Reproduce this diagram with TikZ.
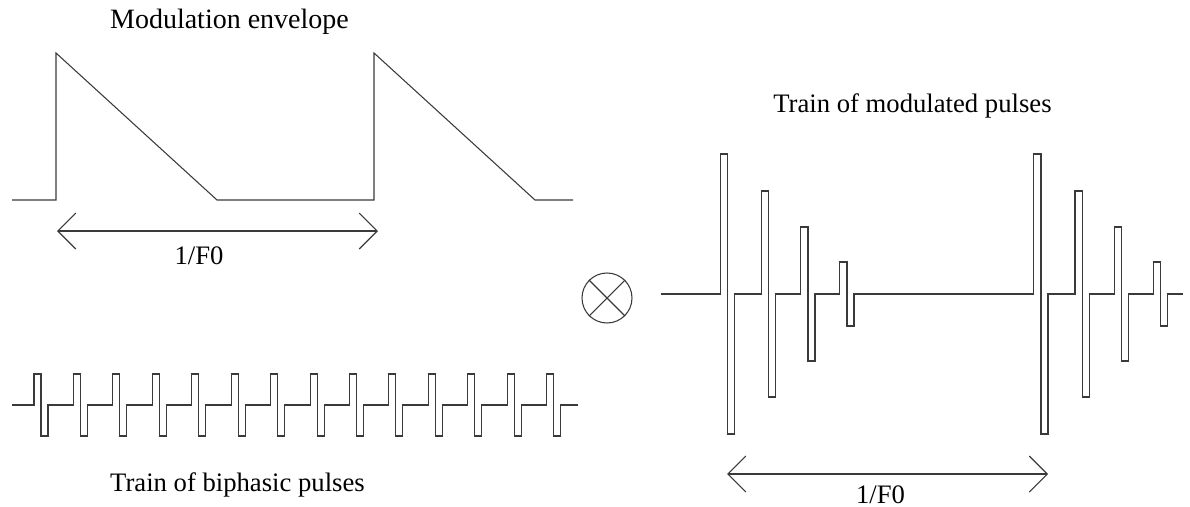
\documentclass[tikz,border=0pt]{standalone}
\usepackage{fontspec}
\setmainfont{Liberation Serif}
\usetikzlibrary{arrows.meta}
\definecolor{ink}{HTML}{3A3A3A}
\begin{document}
\begin{tikzpicture}[x=0.75pt,y=-0.75pt,
  wave/.style={draw=ink,line width=0.8pt,line join=miter},
  span/.style={draw=ink,line width=0.8pt,{Straight Barb[length=13.5pt,width=27pt]}-{Straight Barb[length=13.5pt,width=27pt]}},
  label/.style={font=\fontsize{20}{24}\selectfont,text=black,inner sep=0pt,anchor=base}]
\useasboundingbox (0,0) rectangle (1190,507);

% modulation envelope (sawtooth bursts)
\draw[wave] (12,200) -- (56,200) -- (56,53) -- (217,200) -- (374,200)
  -- (374,53) -- (535,200) -- (573,200);
\node[label,font=\fontsize{21}{25}\selectfont] (envtitle) at (229.5,28.5) {Modulation envelope};
\coordinate (envA) at (57,231);
\coordinate (envB) at (378,231);
\draw[span] (envA) -- (envB);
\node[label] (envper) at (199,264) {1/F0};

% train of biphasic pulses
\draw[wave] (12,405)
  foreach \k in {0,...,13} {
    -- ({34+39.44*\k},405) -- ({34+39.44*\k},374) -- ({41+39.44*\k},374)
    -- ({41+39.44*\k},436) -- ({48+39.44*\k},436) -- ({48+39.44*\k},405)
  } -- (578,405);
\node[label] (bititle) at (237.5,491.5) {Train of biphasic pulses};

% multiplication operator
\node[draw=ink,line width=0.8pt,circle,minimum size=50*0.75pt,inner sep=0pt] (mult) at (607,298) {};
\draw[ink,line width=0.8pt] (mult.north west) -- (mult.south east);
\draw[ink,line width=0.8pt] (mult.north east) -- (mult.south west);

% train of modulated pulses
\draw[wave] (661,294)
  foreach \x/\a in {720.3/140,761.3/103,800.7/67,839.7/32,
                    1033.7/140,1075/103,1114.3/67,1153.3/32} {
    -- (\x,294) -- (\x,294-\a) -- (\x+7.3,294-\a)
    -- (\x+7.3,294+\a) -- (\x+14.3,294+\a) -- (\x+14.3,294)
  } -- (1183,294);
\node[label] (modtitle) at (912.5,112) {Train of modulated pulses};
\coordinate (modA) at (727,474);
\coordinate (modB) at (1048,474);
\draw[span] (modA) -- (modB);
\node[label] (modper) at (880.5,503) {1/F0};
\end{tikzpicture}
\end{document}
